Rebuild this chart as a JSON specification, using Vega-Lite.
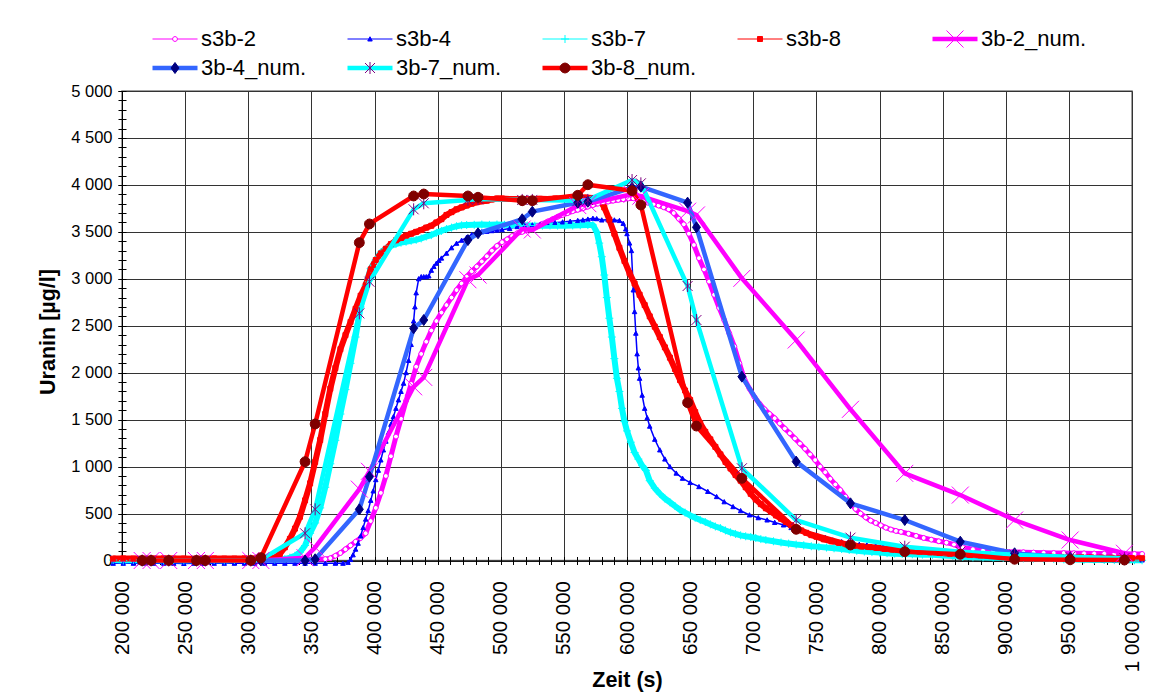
{
"$schema":"https://vega.github.io/schema/vega-lite/v6.json",
"width":1010,"height":469.5,"autosize":"none",
"padding":{"left":122,"top":91,"right":37,"bottom":135.5},
"data":{"values":[
{"s":"s3b-2","t":193000,"u":10},{"s":"s3b-2","t":201000,"u":10},{"s":"s3b-2","t":209000,"u":12},{"s":"s3b-2","t":217000,"u":10},{"s":"s3b-2","t":225000,"u":8},{"s":"s3b-2","t":233000,"u":10},{"s":"s3b-2","t":241000,"u":12},{"s":"s3b-2","t":249000,"u":10},{"s":"s3b-2","t":257000,"u":10},{"s":"s3b-2","t":265000,"u":8},{"s":"s3b-2","t":273000,"u":10},{"s":"s3b-2","t":281000,"u":12},{"s":"s3b-2","t":289000,"u":10},{"s":"s3b-2","t":297000,"u":10},{"s":"s3b-2","t":305000,"u":10},{"s":"s3b-2","t":313000,"u":12},{"s":"s3b-2","t":321000,"u":10},{"s":"s3b-2","t":329000,"u":10},{"s":"s3b-2","t":337000,"u":10},{"s":"s3b-2","t":345000,"u":12},{"s":"s3b-2","t":353000,"u":12},{"s":"s3b-2","t":361000,"u":15},{"s":"s3b-2","t":365000,"u":25},{"s":"s3b-2","t":369000,"u":50},{"s":"s3b-2","t":373000,"u":80},{"s":"s3b-2","t":377000,"u":120},{"s":"s3b-2","t":381000,"u":160},{"s":"s3b-2","t":385000,"u":200},{"s":"s3b-2","t":389000,"u":240},{"s":"s3b-2","t":393000,"u":290},{"s":"s3b-2","t":397000,"u":420},{"s":"s3b-2","t":401000,"u":560},{"s":"s3b-2","t":405000,"u":720},{"s":"s3b-2","t":409000,"u":900},{"s":"s3b-2","t":413000,"u":1110},{"s":"s3b-2","t":417000,"u":1320},{"s":"s3b-2","t":421000,"u":1510},{"s":"s3b-2","t":425000,"u":1700},{"s":"s3b-2","t":429000,"u":1880},{"s":"s3b-2","t":433000,"u":2064},{"s":"s3b-2","t":437000,"u":2200},{"s":"s3b-2","t":441000,"u":2330},{"s":"s3b-2","t":445000,"u":2450},{"s":"s3b-2","t":449000,"u":2550},{"s":"s3b-2","t":453000,"u":2640},{"s":"s3b-2","t":457000,"u":2720},{"s":"s3b-2","t":461000,"u":2800},{"s":"s3b-2","t":465000,"u":2880},{"s":"s3b-2","t":469000,"u":2950},{"s":"s3b-2","t":473000,"u":3022},{"s":"s3b-2","t":477000,"u":3080},{"s":"s3b-2","t":481000,"u":3130},{"s":"s3b-2","t":485000,"u":3185},{"s":"s3b-2","t":489000,"u":3240},{"s":"s3b-2","t":493000,"u":3300},{"s":"s3b-2","t":497000,"u":3350},{"s":"s3b-2","t":501000,"u":3390},{"s":"s3b-2","t":505000,"u":3420},{"s":"s3b-2","t":509000,"u":3455},{"s":"s3b-2","t":513000,"u":3485},{"s":"s3b-2","t":517000,"u":3500},{"s":"s3b-2","t":521000,"u":3520},{"s":"s3b-2","t":525000,"u":3538},{"s":"s3b-2","t":529000,"u":3560},{"s":"s3b-2","t":533000,"u":3585},{"s":"s3b-2","t":537000,"u":3610},{"s":"s3b-2","t":541000,"u":3635},{"s":"s3b-2","t":545000,"u":3660},{"s":"s3b-2","t":549000,"u":3680},{"s":"s3b-2","t":553000,"u":3700},{"s":"s3b-2","t":557000,"u":3720},{"s":"s3b-2","t":561000,"u":3735},{"s":"s3b-2","t":565000,"u":3750},{"s":"s3b-2","t":569000,"u":3768},{"s":"s3b-2","t":573000,"u":3785},{"s":"s3b-2","t":577000,"u":3800},{"s":"s3b-2","t":581000,"u":3812},{"s":"s3b-2","t":585000,"u":3822},{"s":"s3b-2","t":589000,"u":3832},{"s":"s3b-2","t":593000,"u":3840},{"s":"s3b-2","t":597000,"u":3848},{"s":"s3b-2","t":601000,"u":3855},{"s":"s3b-2","t":605000,"u":3857},{"s":"s3b-2","t":609000,"u":3845},{"s":"s3b-2","t":613000,"u":3825},{"s":"s3b-2","t":617000,"u":3808},{"s":"s3b-2","t":621000,"u":3795},{"s":"s3b-2","t":625000,"u":3780},{"s":"s3b-2","t":629000,"u":3762},{"s":"s3b-2","t":633000,"u":3740},{"s":"s3b-2","t":637000,"u":3700},{"s":"s3b-2","t":641000,"u":3640},{"s":"s3b-2","t":645000,"u":3580},{"s":"s3b-2","t":649000,"u":3480},{"s":"s3b-2","t":653000,"u":3360},{"s":"s3b-2","t":657000,"u":3220},{"s":"s3b-2","t":661000,"u":3100},{"s":"s3b-2","t":665000,"u":2970},{"s":"s3b-2","t":669000,"u":2830},{"s":"s3b-2","t":673000,"u":2690},{"s":"s3b-2","t":677000,"u":2560},{"s":"s3b-2","t":681000,"u":2420},{"s":"s3b-2","t":685000,"u":2280},{"s":"s3b-2","t":689000,"u":2100},{"s":"s3b-2","t":693000,"u":1930},{"s":"s3b-2","t":697000,"u":1830},{"s":"s3b-2","t":701000,"u":1740},{"s":"s3b-2","t":705000,"u":1670},{"s":"s3b-2","t":709000,"u":1610},{"s":"s3b-2","t":713000,"u":1560},{"s":"s3b-2","t":717000,"u":1515},{"s":"s3b-2","t":721000,"u":1460},{"s":"s3b-2","t":725000,"u":1405},{"s":"s3b-2","t":729000,"u":1355},{"s":"s3b-2","t":733000,"u":1300},{"s":"s3b-2","t":737000,"u":1245},{"s":"s3b-2","t":741000,"u":1190},{"s":"s3b-2","t":745000,"u":1130},{"s":"s3b-2","t":749000,"u":1070},{"s":"s3b-2","t":753000,"u":1000},{"s":"s3b-2","t":757000,"u":940},{"s":"s3b-2","t":761000,"u":870},{"s":"s3b-2","t":765000,"u":810},{"s":"s3b-2","t":769000,"u":750},{"s":"s3b-2","t":773000,"u":680},{"s":"s3b-2","t":777000,"u":610},{"s":"s3b-2","t":781000,"u":550},{"s":"s3b-2","t":785000,"u":500},{"s":"s3b-2","t":789000,"u":460},{"s":"s3b-2","t":793000,"u":425},{"s":"s3b-2","t":797000,"u":400},{"s":"s3b-2","t":801000,"u":375},{"s":"s3b-2","t":805000,"u":350},{"s":"s3b-2","t":809000,"u":330},{"s":"s3b-2","t":813000,"u":315},{"s":"s3b-2","t":817000,"u":305},{"s":"s3b-2","t":823000,"u":285},{"s":"s3b-2","t":829000,"u":262},{"s":"s3b-2","t":835000,"u":240},{"s":"s3b-2","t":841000,"u":222},{"s":"s3b-2","t":847000,"u":205},{"s":"s3b-2","t":853000,"u":190},{"s":"s3b-2","t":859000,"u":170},{"s":"s3b-2","t":866000,"u":140},{"s":"s3b-2","t":874000,"u":120},{"s":"s3b-2","t":882000,"u":108},{"s":"s3b-2","t":890000,"u":100},{"s":"s3b-2","t":898000,"u":95},{"s":"s3b-2","t":906000,"u":90},{"s":"s3b-2","t":914000,"u":88},{"s":"s3b-2","t":922000,"u":85},{"s":"s3b-2","t":930000,"u":82},{"s":"s3b-2","t":938000,"u":80},{"s":"s3b-2","t":946000,"u":80},{"s":"s3b-2","t":954000,"u":78},{"s":"s3b-2","t":962000,"u":76},{"s":"s3b-2","t":970000,"u":75},{"s":"s3b-2","t":978000,"u":74},{"s":"s3b-2","t":986000,"u":72},{"s":"s3b-2","t":994000,"u":72},{"s":"s3b-2","t":1002000,"u":70},{"s":"s3b-2","t":1008000,"u":70},
{"s":"s3b-4","t":193000,"u":-30},{"s":"s3b-4","t":201000,"u":-30},{"s":"s3b-4","t":209000,"u":-30},{"s":"s3b-4","t":217000,"u":-28},{"s":"s3b-4","t":225000,"u":-30},{"s":"s3b-4","t":233000,"u":-30},{"s":"s3b-4","t":241000,"u":-30},{"s":"s3b-4","t":249000,"u":-32},{"s":"s3b-4","t":257000,"u":-30},{"s":"s3b-4","t":265000,"u":-30},{"s":"s3b-4","t":273000,"u":-30},{"s":"s3b-4","t":281000,"u":-30},{"s":"s3b-4","t":289000,"u":-30},{"s":"s3b-4","t":297000,"u":-30},{"s":"s3b-4","t":305000,"u":-30},{"s":"s3b-4","t":313000,"u":-30},{"s":"s3b-4","t":321000,"u":-30},{"s":"s3b-4","t":329000,"u":-30},{"s":"s3b-4","t":337000,"u":-30},{"s":"s3b-4","t":345000,"u":-30},{"s":"s3b-4","t":353000,"u":-30},{"s":"s3b-4","t":361000,"u":-30},{"s":"s3b-4","t":369000,"u":-30},{"s":"s3b-4","t":375000,"u":-30},{"s":"s3b-4","t":379000,"u":-20},{"s":"s3b-4","t":381000,"u":10},{"s":"s3b-4","t":383000,"u":60},{"s":"s3b-4","t":385000,"u":120},{"s":"s3b-4","t":387000,"u":183},{"s":"s3b-4","t":389000,"u":260},{"s":"s3b-4","t":391000,"u":350},{"s":"s3b-4","t":393000,"u":440},{"s":"s3b-4","t":395000,"u":530},{"s":"s3b-4","t":397000,"u":640},{"s":"s3b-4","t":399000,"u":740},{"s":"s3b-4","t":401000,"u":860},{"s":"s3b-4","t":403000,"u":960},{"s":"s3b-4","t":405000,"u":1070},{"s":"s3b-4","t":407000,"u":1177},{"s":"s3b-4","t":409000,"u":1270},{"s":"s3b-4","t":411000,"u":1360},{"s":"s3b-4","t":413000,"u":1450},{"s":"s3b-4","t":415000,"u":1531},{"s":"s3b-4","t":417000,"u":1620},{"s":"s3b-4","t":419000,"u":1710},{"s":"s3b-4","t":421000,"u":1800},{"s":"s3b-4","t":423000,"u":1887},{"s":"s3b-4","t":425000,"u":2000},{"s":"s3b-4","t":427000,"u":2130},{"s":"s3b-4","t":429000,"u":2300},{"s":"s3b-4","t":431000,"u":2550},{"s":"s3b-4","t":432000,"u":2700},{"s":"s3b-4","t":433000,"u":2850},{"s":"s3b-4","t":435000,"u":3000},{"s":"s3b-4","t":437000,"u":3022},{"s":"s3b-4","t":439000,"u":3022},{"s":"s3b-4","t":441000,"u":3022},{"s":"s3b-4","t":443000,"u":3030},{"s":"s3b-4","t":445000,"u":3090},{"s":"s3b-4","t":447000,"u":3130},{"s":"s3b-4","t":449000,"u":3165},{"s":"s3b-4","t":451000,"u":3195},{"s":"s3b-4","t":453000,"u":3220},{"s":"s3b-4","t":457000,"u":3272},{"s":"s3b-4","t":461000,"u":3330},{"s":"s3b-4","t":465000,"u":3378},{"s":"s3b-4","t":469000,"u":3410},{"s":"s3b-4","t":473000,"u":3442},{"s":"s3b-4","t":477000,"u":3470},{"s":"s3b-4","t":481000,"u":3490},{"s":"s3b-4","t":485000,"u":3500},{"s":"s3b-4","t":489000,"u":3505},{"s":"s3b-4","t":493000,"u":3512},{"s":"s3b-4","t":497000,"u":3518},{"s":"s3b-4","t":501000,"u":3522},{"s":"s3b-4","t":507000,"u":3535},{"s":"s3b-4","t":513000,"u":3555},{"s":"s3b-4","t":519000,"u":3565},{"s":"s3b-4","t":525000,"u":3573},{"s":"s3b-4","t":531000,"u":3580},{"s":"s3b-4","t":537000,"u":3590},{"s":"s3b-4","t":543000,"u":3598},{"s":"s3b-4","t":549000,"u":3605},{"s":"s3b-4","t":555000,"u":3612},{"s":"s3b-4","t":561000,"u":3620},{"s":"s3b-4","t":565000,"u":3626},{"s":"s3b-4","t":569000,"u":3635},{"s":"s3b-4","t":573000,"u":3644},{"s":"s3b-4","t":576000,"u":3640},{"s":"s3b-4","t":580000,"u":3626},{"s":"s3b-4","t":585000,"u":3628},{"s":"s3b-4","t":590000,"u":3626},{"s":"s3b-4","t":594000,"u":3620},{"s":"s3b-4","t":597000,"u":3590},{"s":"s3b-4","t":599000,"u":3530},{"s":"s3b-4","t":600000,"u":3480},{"s":"s3b-4","t":602000,"u":3380},{"s":"s3b-4","t":603500,"u":3300},{"s":"s3b-4","t":605000,"u":2881},{"s":"s3b-4","t":606000,"u":2650},{"s":"s3b-4","t":607000,"u":2420},{"s":"s3b-4","t":608000,"u":2200},{"s":"s3b-4","t":609000,"u":2050},{"s":"s3b-4","t":610000,"u":1940},{"s":"s3b-4","t":612000,"u":1760},{"s":"s3b-4","t":614000,"u":1620},{"s":"s3b-4","t":616000,"u":1520},{"s":"s3b-4","t":618000,"u":1430},{"s":"s3b-4","t":622000,"u":1290},{"s":"s3b-4","t":626000,"u":1177},{"s":"s3b-4","t":630000,"u":1080},{"s":"s3b-4","t":634000,"u":999},{"s":"s3b-4","t":639000,"u":930},{"s":"s3b-4","t":644000,"u":875},{"s":"s3b-4","t":650000,"u":830},{"s":"s3b-4","t":657000,"u":786},{"s":"s3b-4","t":664000,"u":735},{"s":"s3b-4","t":671000,"u":680},{"s":"s3b-4","t":677000,"u":625},{"s":"s3b-4","t":684000,"u":573},{"s":"s3b-4","t":690000,"u":530},{"s":"s3b-4","t":697000,"u":485},{"s":"s3b-4","t":704000,"u":455},{"s":"s3b-4","t":711000,"u":431},{"s":"s3b-4","t":717000,"u":405},{"s":"s3b-4","t":724000,"u":378},{"s":"s3b-4","t":730000,"u":350},{"s":"s3b-4","t":737000,"u":325},{"s":"s3b-4","t":743000,"u":300},{"s":"s3b-4","t":750000,"u":272},{"s":"s3b-4","t":757000,"u":245},{"s":"s3b-4","t":763000,"u":218},{"s":"s3b-4","t":770000,"u":200},{"s":"s3b-4","t":777000,"u":183},{"s":"s3b-4","t":784000,"u":172},{"s":"s3b-4","t":790000,"u":165},{"s":"s3b-4","t":797000,"u":155},{"s":"s3b-4","t":803000,"u":147},{"s":"s3b-4","t":810000,"u":138},{"s":"s3b-4","t":816000,"u":130},{"s":"s3b-4","t":824000,"u":118},{"s":"s3b-4","t":833000,"u":106},{"s":"s3b-4","t":842000,"u":94},{"s":"s3b-4","t":851000,"u":82},{"s":"s3b-4","t":860000,"u":70},{"s":"s3b-4","t":869000,"u":60},{"s":"s3b-4","t":878000,"u":52},{"s":"s3b-4","t":887000,"u":45},{"s":"s3b-4","t":896000,"u":38},{"s":"s3b-4","t":905000,"u":32},{"s":"s3b-4","t":914000,"u":27},{"s":"s3b-4","t":923000,"u":23},{"s":"s3b-4","t":932000,"u":19},{"s":"s3b-4","t":941000,"u":16},{"s":"s3b-4","t":950000,"u":14},{"s":"s3b-4","t":959000,"u":12},{"s":"s3b-4","t":968000,"u":10},{"s":"s3b-4","t":977000,"u":9},{"s":"s3b-4","t":986000,"u":8},{"s":"s3b-4","t":995000,"u":7},{"s":"s3b-4","t":1008000,"u":5},
{"s":"s3b-7","t":193000,"u":5},{"s":"s3b-7","t":201000,"u":0},{"s":"s3b-7","t":209000,"u":5},{"s":"s3b-7","t":217000,"u":0},{"s":"s3b-7","t":225000,"u":5},{"s":"s3b-7","t":233000,"u":0},{"s":"s3b-7","t":241000,"u":5},{"s":"s3b-7","t":249000,"u":0},{"s":"s3b-7","t":257000,"u":5},{"s":"s3b-7","t":265000,"u":0},{"s":"s3b-7","t":273000,"u":5},{"s":"s3b-7","t":281000,"u":0},{"s":"s3b-7","t":289000,"u":5},{"s":"s3b-7","t":297000,"u":5},{"s":"s3b-7","t":305000,"u":5},{"s":"s3b-7","t":313000,"u":10},{"s":"s3b-7","t":321000,"u":10},{"s":"s3b-7","t":329000,"u":15},{"s":"s3b-7","t":333000,"u":30},{"s":"s3b-7","t":337000,"u":50},{"s":"s3b-7","t":341000,"u":90},{"s":"s3b-7","t":345000,"u":160},{"s":"s3b-7","t":349000,"u":290},{"s":"s3b-7","t":353000,"u":400},{"s":"s3b-7","t":357000,"u":560},{"s":"s3b-7","t":361000,"u":780},{"s":"s3b-7","t":365000,"u":1030},{"s":"s3b-7","t":369000,"u":1280},{"s":"s3b-7","t":373000,"u":1560},{"s":"s3b-7","t":377000,"u":1820},{"s":"s3b-7","t":381000,"u":2100},{"s":"s3b-7","t":385000,"u":2380},{"s":"s3b-7","t":389000,"u":2700},{"s":"s3b-7","t":393000,"u":2930},{"s":"s3b-7","t":397000,"u":3110},{"s":"s3b-7","t":401000,"u":3200},{"s":"s3b-7","t":405000,"u":3280},{"s":"s3b-7","t":409000,"u":3320},{"s":"s3b-7","t":413000,"u":3350},{"s":"s3b-7","t":417000,"u":3370},{"s":"s3b-7","t":421000,"u":3385},{"s":"s3b-7","t":425000,"u":3395},{"s":"s3b-7","t":429000,"u":3405},{"s":"s3b-7","t":433000,"u":3415},{"s":"s3b-7","t":437000,"u":3430},{"s":"s3b-7","t":441000,"u":3450},{"s":"s3b-7","t":445000,"u":3465},{"s":"s3b-7","t":449000,"u":3490},{"s":"s3b-7","t":453000,"u":3510},{"s":"s3b-7","t":457000,"u":3530},{"s":"s3b-7","t":461000,"u":3545},{"s":"s3b-7","t":465000,"u":3560},{"s":"s3b-7","t":469000,"u":3570},{"s":"s3b-7","t":473000,"u":3573},{"s":"s3b-7","t":479000,"u":3575},{"s":"s3b-7","t":485000,"u":3578},{"s":"s3b-7","t":491000,"u":3575},{"s":"s3b-7","t":497000,"u":3578},{"s":"s3b-7","t":503000,"u":3575},{"s":"s3b-7","t":509000,"u":3572},{"s":"s3b-7","t":515000,"u":3570},{"s":"s3b-7","t":521000,"u":3568},{"s":"s3b-7","t":527000,"u":3566},{"s":"s3b-7","t":533000,"u":3566},{"s":"s3b-7","t":539000,"u":3568},{"s":"s3b-7","t":545000,"u":3566},{"s":"s3b-7","t":551000,"u":3566},{"s":"s3b-7","t":557000,"u":3568},{"s":"s3b-7","t":563000,"u":3570},{"s":"s3b-7","t":569000,"u":3572},{"s":"s3b-7","t":573000,"u":3573},{"s":"s3b-7","t":576000,"u":3500},{"s":"s3b-7","t":578000,"u":3380},{"s":"s3b-7","t":580000,"u":3235},{"s":"s3b-7","t":582000,"u":3040},{"s":"s3b-7","t":584000,"u":2800},{"s":"s3b-7","t":586000,"u":2580},{"s":"s3b-7","t":588000,"u":2380},{"s":"s3b-7","t":590000,"u":2150},{"s":"s3b-7","t":592000,"u":1940},{"s":"s3b-7","t":594000,"u":1800},{"s":"s3b-7","t":596000,"u":1620},{"s":"s3b-7","t":598000,"u":1480},{"s":"s3b-7","t":600000,"u":1380},{"s":"s3b-7","t":603000,"u":1260},{"s":"s3b-7","t":606000,"u":1150},{"s":"s3b-7","t":609000,"u":1080},{"s":"s3b-7","t":612000,"u":1010},{"s":"s3b-7","t":615000,"u":960},{"s":"s3b-7","t":618000,"u":850},{"s":"s3b-7","t":622000,"u":770},{"s":"s3b-7","t":626000,"u":710},{"s":"s3b-7","t":630000,"u":660},{"s":"s3b-7","t":634000,"u":620},{"s":"s3b-7","t":638000,"u":580},{"s":"s3b-7","t":642000,"u":540},{"s":"s3b-7","t":646000,"u":510},{"s":"s3b-7","t":650000,"u":480},{"s":"s3b-7","t":654000,"u":455},{"s":"s3b-7","t":658000,"u":431},{"s":"s3b-7","t":662000,"u":410},{"s":"s3b-7","t":666000,"u":385},{"s":"s3b-7","t":670000,"u":362},{"s":"s3b-7","t":674000,"u":345},{"s":"s3b-7","t":678000,"u":320},{"s":"s3b-7","t":682000,"u":300},{"s":"s3b-7","t":686000,"u":283},{"s":"s3b-7","t":690000,"u":268},{"s":"s3b-7","t":694000,"u":258},{"s":"s3b-7","t":698000,"u":250},{"s":"s3b-7","t":702000,"u":240},{"s":"s3b-7","t":706000,"u":228},{"s":"s3b-7","t":710000,"u":218},{"s":"s3b-7","t":716000,"u":205},{"s":"s3b-7","t":722000,"u":192},{"s":"s3b-7","t":728000,"u":180},{"s":"s3b-7","t":734000,"u":170},{"s":"s3b-7","t":740000,"u":162},{"s":"s3b-7","t":746000,"u":152},{"s":"s3b-7","t":752000,"u":145},{"s":"s3b-7","t":758000,"u":138},{"s":"s3b-7","t":764000,"u":130},{"s":"s3b-7","t":770000,"u":122},{"s":"s3b-7","t":776000,"u":112},{"s":"s3b-7","t":782000,"u":104},{"s":"s3b-7","t":788000,"u":96},{"s":"s3b-7","t":794000,"u":90},{"s":"s3b-7","t":800000,"u":84},{"s":"s3b-7","t":806000,"u":78},{"s":"s3b-7","t":812000,"u":73},{"s":"s3b-7","t":818000,"u":70},{"s":"s3b-7","t":826000,"u":66},{"s":"s3b-7","t":834000,"u":62},{"s":"s3b-7","t":842000,"u":60},{"s":"s3b-7","t":850000,"u":54},{"s":"s3b-7","t":858000,"u":48},{"s":"s3b-7","t":866000,"u":38},{"s":"s3b-7","t":874000,"u":34},{"s":"s3b-7","t":882000,"u":32},{"s":"s3b-7","t":890000,"u":30},{"s":"s3b-7","t":898000,"u":28},{"s":"s3b-7","t":906000,"u":25},{"s":"s3b-7","t":914000,"u":22},{"s":"s3b-7","t":922000,"u":20},{"s":"s3b-7","t":930000,"u":18},{"s":"s3b-7","t":938000,"u":15},{"s":"s3b-7","t":946000,"u":12},{"s":"s3b-7","t":954000,"u":10},{"s":"s3b-7","t":962000,"u":8},{"s":"s3b-7","t":970000,"u":6},{"s":"s3b-7","t":978000,"u":5},{"s":"s3b-7","t":986000,"u":4},{"s":"s3b-7","t":994000,"u":3},{"s":"s3b-7","t":1002000,"u":3},{"s":"s3b-7","t":1008000,"u":2},
{"s":"s3b-8","t":193000,"u":20},{"s":"s3b-8","t":201000,"u":22},{"s":"s3b-8","t":209000,"u":20},{"s":"s3b-8","t":217000,"u":18},{"s":"s3b-8","t":225000,"u":20},{"s":"s3b-8","t":233000,"u":22},{"s":"s3b-8","t":241000,"u":20},{"s":"s3b-8","t":249000,"u":20},{"s":"s3b-8","t":257000,"u":18},{"s":"s3b-8","t":265000,"u":20},{"s":"s3b-8","t":273000,"u":22},{"s":"s3b-8","t":281000,"u":20},{"s":"s3b-8","t":289000,"u":20},{"s":"s3b-8","t":297000,"u":22},{"s":"s3b-8","t":305000,"u":20},{"s":"s3b-8","t":313000,"u":22},{"s":"s3b-8","t":321000,"u":30},{"s":"s3b-8","t":325000,"u":70},{"s":"s3b-8","t":329000,"u":140},{"s":"s3b-8","t":333000,"u":230},{"s":"s3b-8","t":337000,"u":340},{"s":"s3b-8","t":341000,"u":466},{"s":"s3b-8","t":345000,"u":640},{"s":"s3b-8","t":349000,"u":822},{"s":"s3b-8","t":353000,"u":1050},{"s":"s3b-8","t":357000,"u":1283},{"s":"s3b-8","t":361000,"u":1560},{"s":"s3b-8","t":365000,"u":1830},{"s":"s3b-8","t":369000,"u":2050},{"s":"s3b-8","t":373000,"u":2250},{"s":"s3b-8","t":377000,"u":2400},{"s":"s3b-8","t":381000,"u":2540},{"s":"s3b-8","t":385000,"u":2680},{"s":"s3b-8","t":389000,"u":2820},{"s":"s3b-8","t":393000,"u":2930},{"s":"s3b-8","t":397000,"u":3100},{"s":"s3b-8","t":401000,"u":3200},{"s":"s3b-8","t":405000,"u":3270},{"s":"s3b-8","t":409000,"u":3320},{"s":"s3b-8","t":413000,"u":3370},{"s":"s3b-8","t":417000,"u":3410},{"s":"s3b-8","t":421000,"u":3435},{"s":"s3b-8","t":425000,"u":3460},{"s":"s3b-8","t":429000,"u":3480},{"s":"s3b-8","t":433000,"u":3500},{"s":"s3b-8","t":437000,"u":3520},{"s":"s3b-8","t":441000,"u":3545},{"s":"s3b-8","t":445000,"u":3565},{"s":"s3b-8","t":449000,"u":3600},{"s":"s3b-8","t":453000,"u":3635},{"s":"s3b-8","t":457000,"u":3680},{"s":"s3b-8","t":461000,"u":3710},{"s":"s3b-8","t":465000,"u":3740},{"s":"s3b-8","t":469000,"u":3760},{"s":"s3b-8","t":473000,"u":3780},{"s":"s3b-8","t":477000,"u":3800},{"s":"s3b-8","t":481000,"u":3815},{"s":"s3b-8","t":485000,"u":3825},{"s":"s3b-8","t":489000,"u":3832},{"s":"s3b-8","t":493000,"u":3845},{"s":"s3b-8","t":497000,"u":3855},{"s":"s3b-8","t":501000,"u":3855},{"s":"s3b-8","t":507000,"u":3850},{"s":"s3b-8","t":513000,"u":3850},{"s":"s3b-8","t":519000,"u":3848},{"s":"s3b-8","t":525000,"u":3850},{"s":"s3b-8","t":531000,"u":3852},{"s":"s3b-8","t":537000,"u":3850},{"s":"s3b-8","t":543000,"u":3855},{"s":"s3b-8","t":549000,"u":3855},{"s":"s3b-8","t":555000,"u":3860},{"s":"s3b-8","t":561000,"u":3860},{"s":"s3b-8","t":567000,"u":3865},{"s":"s3b-8","t":573000,"u":3860},{"s":"s3b-8","t":578000,"u":3840},{"s":"s3b-8","t":582000,"u":3760},{"s":"s3b-8","t":586000,"u":3630},{"s":"s3b-8","t":590000,"u":3480},{"s":"s3b-8","t":594000,"u":3330},{"s":"s3b-8","t":598000,"u":3190},{"s":"s3b-8","t":602000,"u":3060},{"s":"s3b-8","t":606000,"u":2950},{"s":"s3b-8","t":610000,"u":2830},{"s":"s3b-8","t":614000,"u":2720},{"s":"s3b-8","t":618000,"u":2600},{"s":"s3b-8","t":622000,"u":2490},{"s":"s3b-8","t":626000,"u":2380},{"s":"s3b-8","t":630000,"u":2270},{"s":"s3b-8","t":634000,"u":2160},{"s":"s3b-8","t":638000,"u":2040},{"s":"s3b-8","t":642000,"u":1922},{"s":"s3b-8","t":646000,"u":1810},{"s":"s3b-8","t":650000,"u":1709},{"s":"s3b-8","t":654000,"u":1580},{"s":"s3b-8","t":658000,"u":1461},{"s":"s3b-8","t":662000,"u":1370},{"s":"s3b-8","t":666000,"u":1290},{"s":"s3b-8","t":670000,"u":1210},{"s":"s3b-8","t":674000,"u":1130},{"s":"s3b-8","t":678000,"u":1050},{"s":"s3b-8","t":682000,"u":980},{"s":"s3b-8","t":686000,"u":910},{"s":"s3b-8","t":690000,"u":850},{"s":"s3b-8","t":694000,"u":780},{"s":"s3b-8","t":698000,"u":710},{"s":"s3b-8","t":702000,"u":650},{"s":"s3b-8","t":706000,"u":600},{"s":"s3b-8","t":710000,"u":556},{"s":"s3b-8","t":714000,"u":520},{"s":"s3b-8","t":718000,"u":480},{"s":"s3b-8","t":722000,"u":445},{"s":"s3b-8","t":726000,"u":410},{"s":"s3b-8","t":730000,"u":375},{"s":"s3b-8","t":734000,"u":345},{"s":"s3b-8","t":738000,"u":320},{"s":"s3b-8","t":742000,"u":295},{"s":"s3b-8","t":746000,"u":270},{"s":"s3b-8","t":750000,"u":253},{"s":"s3b-8","t":756000,"u":225},{"s":"s3b-8","t":762000,"u":205},{"s":"s3b-8","t":768000,"u":188},{"s":"s3b-8","t":774000,"u":172},{"s":"s3b-8","t":780000,"u":158},{"s":"s3b-8","t":786000,"u":150},{"s":"s3b-8","t":792000,"u":143},{"s":"s3b-8","t":798000,"u":135},{"s":"s3b-8","t":804000,"u":125},{"s":"s3b-8","t":810000,"u":118},{"s":"s3b-8","t":816000,"u":112},{"s":"s3b-8","t":824000,"u":102},{"s":"s3b-8","t":832000,"u":95},{"s":"s3b-8","t":840000,"u":88},{"s":"s3b-8","t":848000,"u":80},{"s":"s3b-8","t":856000,"u":72},{"s":"s3b-8","t":864000,"u":65},{"s":"s3b-8","t":872000,"u":58},{"s":"s3b-8","t":880000,"u":55},{"s":"s3b-8","t":888000,"u":52},{"s":"s3b-8","t":896000,"u":50},{"s":"s3b-8","t":904000,"u":46},{"s":"s3b-8","t":912000,"u":44},{"s":"s3b-8","t":920000,"u":42},{"s":"s3b-8","t":928000,"u":40},{"s":"s3b-8","t":936000,"u":40},{"s":"s3b-8","t":944000,"u":38},{"s":"s3b-8","t":952000,"u":36},{"s":"s3b-8","t":960000,"u":34},{"s":"s3b-8","t":968000,"u":32},{"s":"s3b-8","t":976000,"u":30},{"s":"s3b-8","t":984000,"u":28},{"s":"s3b-8","t":992000,"u":26},{"s":"s3b-8","t":1000000,"u":25},{"s":"s3b-8","t":1008000,"u":24},
{"s":"3b-2_num.","t":216000,"u":0},{"s":"3b-2_num.","t":223000,"u":0},{"s":"3b-2_num.","t":237000,"u":0},{"s":"3b-2_num.","t":259000,"u":0},{"s":"3b-2_num.","t":266000,"u":0},{"s":"3b-2_num.","t":302000,"u":0},{"s":"3b-2_num.","t":310000,"u":0},{"s":"3b-2_num.","t":345000,"u":30},{"s":"3b-2_num.","t":353000,"u":140},{"s":"3b-2_num.","t":388000,"u":760},{"s":"3b-2_num.","t":396000,"u":950},{"s":"3b-2_num.","t":431000,"u":1850},{"s":"3b-2_num.","t":439000,"u":1950},{"s":"3b-2_num.","t":474000,"u":2990},{"s":"3b-2_num.","t":482000,"u":3040},{"s":"3b-2_num.","t":517000,"u":3530},{"s":"3b-2_num.","t":525000,"u":3520},{"s":"3b-2_num.","t":561000,"u":3780},{"s":"3b-2_num.","t":569000,"u":3800},{"s":"3b-2_num.","t":604000,"u":3900},{"s":"3b-2_num.","t":611000,"u":3880},{"s":"3b-2_num.","t":648000,"u":3720},{"s":"3b-2_num.","t":655000,"u":3680},{"s":"3b-2_num.","t":691000,"u":3005},{"s":"3b-2_num.","t":734000,"u":2348},{"s":"3b-2_num.","t":777000,"u":1610},{"s":"3b-2_num.","t":820000,"u":928},{"s":"3b-2_num.","t":864000,"u":697},{"s":"3b-2_num.","t":907000,"u":431},{"s":"3b-2_num.","t":951000,"u":218},{"s":"3b-2_num.","t":994000,"u":77},
{"s":"3b-4_num.","t":216000,"u":0},{"s":"3b-4_num.","t":223000,"u":0},{"s":"3b-4_num.","t":237000,"u":0},{"s":"3b-4_num.","t":259000,"u":0},{"s":"3b-4_num.","t":266000,"u":0},{"s":"3b-4_num.","t":302000,"u":0},{"s":"3b-4_num.","t":310000,"u":0},{"s":"3b-4_num.","t":345000,"u":0},{"s":"3b-4_num.","t":353000,"u":13},{"s":"3b-4_num.","t":388000,"u":545},{"s":"3b-4_num.","t":396000,"u":893},{"s":"3b-4_num.","t":431000,"u":2473},{"s":"3b-4_num.","t":439000,"u":2561},{"s":"3b-4_num.","t":474000,"u":3413},{"s":"3b-4_num.","t":482000,"u":3485},{"s":"3b-4_num.","t":517000,"u":3634},{"s":"3b-4_num.","t":525000,"u":3715},{"s":"3b-4_num.","t":561000,"u":3810},{"s":"3b-4_num.","t":569000,"u":3821},{"s":"3b-4_num.","t":604000,"u":3970},{"s":"3b-4_num.","t":611000,"u":3981},{"s":"3b-4_num.","t":648000,"u":3811},{"s":"3b-4_num.","t":655000,"u":3548},{"s":"3b-4_num.","t":691000,"u":1958},{"s":"3b-4_num.","t":734000,"u":1053},{"s":"3b-4_num.","t":777000,"u":609},{"s":"3b-4_num.","t":820000,"u":431},{"s":"3b-4_num.","t":864000,"u":200},{"s":"3b-4_num.","t":907000,"u":77},{"s":"3b-4_num.","t":951000,"u":30},{"s":"3b-4_num.","t":994000,"u":10},
{"s":"3b-7_num.","t":216000,"u":0},{"s":"3b-7_num.","t":223000,"u":0},{"s":"3b-7_num.","t":237000,"u":0},{"s":"3b-7_num.","t":259000,"u":0},{"s":"3b-7_num.","t":266000,"u":0},{"s":"3b-7_num.","t":302000,"u":0},{"s":"3b-7_num.","t":310000,"u":10},{"s":"3b-7_num.","t":345000,"u":290},{"s":"3b-7_num.","t":353000,"u":545},{"s":"3b-7_num.","t":388000,"u":2632},{"s":"3b-7_num.","t":396000,"u":2969},{"s":"3b-7_num.","t":431000,"u":3740},{"s":"3b-7_num.","t":439000,"u":3804},{"s":"3b-7_num.","t":474000,"u":3840},{"s":"3b-7_num.","t":482000,"u":3850},{"s":"3b-7_num.","t":517000,"u":3840},{"s":"3b-7_num.","t":525000,"u":3840},{"s":"3b-7_num.","t":561000,"u":3830},{"s":"3b-7_num.","t":569000,"u":3840},{"s":"3b-7_num.","t":604000,"u":4052},{"s":"3b-7_num.","t":611000,"u":4017},{"s":"3b-7_num.","t":648000,"u":2923},{"s":"3b-7_num.","t":655000,"u":2561},{"s":"3b-7_num.","t":691000,"u":982},{"s":"3b-7_num.","t":734000,"u":431},{"s":"3b-7_num.","t":777000,"u":243},{"s":"3b-7_num.","t":820000,"u":147},{"s":"3b-7_num.","t":864000,"u":94},{"s":"3b-7_num.","t":907000,"u":60},{"s":"3b-7_num.","t":951000,"u":40},{"s":"3b-7_num.","t":994000,"u":25},
{"s":"3b-8_num.","t":216000,"u":0},{"s":"3b-8_num.","t":223000,"u":0},{"s":"3b-8_num.","t":237000,"u":0},{"s":"3b-8_num.","t":259000,"u":0},{"s":"3b-8_num.","t":266000,"u":0},{"s":"3b-8_num.","t":302000,"u":0},{"s":"3b-8_num.","t":310000,"u":30},{"s":"3b-8_num.","t":345000,"u":1052},{"s":"3b-8_num.","t":353000,"u":1454},{"s":"3b-8_num.","t":388000,"u":3385},{"s":"3b-8_num.","t":396000,"u":3584},{"s":"3b-8_num.","t":431000,"u":3882},{"s":"3b-8_num.","t":439000,"u":3903},{"s":"3b-8_num.","t":474000,"u":3882},{"s":"3b-8_num.","t":482000,"u":3868},{"s":"3b-8_num.","t":517000,"u":3832},{"s":"3b-8_num.","t":525000,"u":3832},{"s":"3b-8_num.","t":561000,"u":3889},{"s":"3b-8_num.","t":569000,"u":4002},{"s":"3b-8_num.","t":604000,"u":3938},{"s":"3b-8_num.","t":611000,"u":3786},{"s":"3b-8_num.","t":648000,"u":1681},{"s":"3b-8_num.","t":655000,"u":1432},{"s":"3b-8_num.","t":691000,"u":875},{"s":"3b-8_num.","t":734000,"u":332},{"s":"3b-8_num.","t":777000,"u":165},{"s":"3b-8_num.","t":820000,"u":94},{"s":"3b-8_num.","t":864000,"u":66},{"s":"3b-8_num.","t":907000,"u":13},{"s":"3b-8_num.","t":951000,"u":8},{"s":"3b-8_num.","t":994000,"u":5}
]},
"encoding":{
"x":{"field":"t","type":"quantitative","scale":{"domain":[200000,1000000],"nice":false,"zero":false},"axis":null},
"y":{"field":"u","type":"quantitative","scale":{"domain":[0,5000],"nice":false,"zero":false},"axis":null}
},
"layer":[
{"transform":[{"filter":{"field":"s","oneOf":["s3b-2","s3b-4","s3b-7","s3b-8"]}}],
"mark":{"type":"line","strokeJoin":"round"},
"encoding":{
"x":{"field":"t","type":"quantitative","scale":{"domain":[200000,1000000],"nice":false,"zero":false},
"axis":{"orient":"bottom","values":[200000,210000,220000,230000,240000,250000,260000,270000,280000,290000,300000,310000,320000,330000,340000,350000,360000,370000,380000,390000,400000,410000,420000,430000,440000,450000,460000,470000,480000,490000,500000,510000,520000,530000,540000,550000,560000,570000,580000,590000,600000,610000,620000,630000,640000,650000,660000,670000,680000,690000,700000,710000,720000,730000,740000,750000,760000,770000,780000,790000,800000,810000,820000,830000,840000,850000,860000,870000,880000,890000,900000,910000,920000,930000,940000,950000,960000,970000,980000,990000,1000000],"labels":false,"grid":false,"domain":false,"ticks":true,"tickSize":8,"offset":-4,"tickColor":"#000","tickWidth":1,"title":null}},
"y":{"field":"u","type":"quantitative","scale":{"domain":[0,5000],"nice":false,"zero":false},
"axis":{"orient":"left","values":[0,100,200,300,400,500,600,700,800,900,1000,1100,1200,1300,1400,1500,1600,1700,1800,1900,2000,2100,2200,2300,2400,2500,2600,2700,2800,2900,3000,3100,3200,3300,3400,3500,3600,3700,3800,3900,4000,4100,4200,4300,4400,4500,4600,4700,4800,4900,5000],"labels":false,"grid":false,"domain":false,"ticks":true,"tickSize":8,"offset":-4,"tickColor":"#000","tickWidth":1,"title":null}},
"color":{"field":"s","type":"nominal",
"scale":{"domain":["s3b-2","s3b-4","s3b-7","s3b-8","3b-2_num.","3b-4_num.","3b-7_num.","3b-8_num."],"range":["#ff00ff","#0000ff","#00ffff","#ff0000","transparent","transparent","transparent","transparent"]},
"legend":{"orient":"none","legendX":30,"legendY":-62,"direction":"horizontal","columns":5,"gridAlign":"all","columnPadding":40,"rowPadding":7,"symbolType":"stroke","symbolSize":2025,"symbolStrokeWidth":1,"labelFontSize":22,"labelFont":"Liberation Sans","labelColor":"#000","labelOffset":3,"clipHeight":20,"title":null,"padding":0,"labelLimit":0}},
"strokeWidth":{"condition":[{"test":"datum.s === 's3b-4'","value":1.5},{"test":"datum.s === 's3b-2'","value":5}],"value":6}
}},
{"transform":[{"filter":{"field":"s","oneOf":["s3b-2","s3b-4","s3b-7","s3b-8"]}}],
"mark":{"type":"point","opacity":1,"strokeWidth":1,"size":100},
"encoding":{
"fill":{"field":"s","type":"nominal","scale":{"domain":["s3b-2","s3b-4","s3b-7","s3b-8","3b-2_num.","3b-4_num.","3b-7_num.","3b-8_num."],"range":["#ffffff","#0000ff","transparent","#ff0000","transparent","transparent","transparent","transparent"]},
"legend":{"orient":"none","legendX":30,"legendY":-62,"direction":"horizontal","columns":5,"gridAlign":"all","columnPadding":146,"rowPadding":7,"symbolOffset":12,"labelOffset":15,"labelExpr":"''","labelFontSize":22,"labelFont":"Liberation Sans","clipHeight":20,"title":null,"padding":0,"labelLimit":0,"symbolSize":100,"symbolStrokeWidth":1,"symbolOpacity":1}},
"stroke":{"field":"s","type":"nominal","scale":{"domain":["s3b-2","s3b-4","s3b-7","s3b-8","3b-2_num.","3b-4_num.","3b-7_num.","3b-8_num."],"range":["#ff00ff","#0000ff","#00ffff","#ff0000","transparent","transparent","transparent","transparent"]}},
"shape":{"field":"s","type":"nominal","scale":{"domain":["s3b-2","s3b-4","s3b-7","s3b-8","3b-2_num.","3b-4_num.","3b-7_num.","3b-8_num."],"range":["M0.5,0L0.354,0.354L0,0.5L-0.354,0.354L-0.5,0L-0.354,-0.354L0,-0.5L0.354,-0.354Z","M0,-0.45L0.45,0.4L-0.45,0.4Z","M-0.8,0H0.8M0,-0.8V0.8","M-0.5,-0.5H0.5V0.5H-0.5Z","M5.1,-0.1L5.1,0.1","M5.1,-0.1L5.1,0.1","M5.1,-0.1L5.1,0.1","M5.1,-0.1L5.1,0.1"]}}
}},
{"transform":[{"filter":{"field":"s","oneOf":["3b-2_num.","3b-4_num.","3b-7_num.","3b-8_num."]}}],
"mark":{"type":"line","strokeWidth":4.5,"strokeJoin":"round","strokeCap":"round"},
"encoding":{
"x":{"field":"t","type":"quantitative","scale":{"domain":[200000,1000000],"nice":false,"zero":false},
"axis":{"orient":"bottom","values":[200000,250000,300000,350000,400000,450000,500000,550000,600000,650000,700000,750000,800000,850000,900000,950000,1000000],"labelExpr":"replace(format(datum.value, ','), regexp(',', 'g'), ' ')","labelAngle":-90,"labelFontSize":20.5,"labelFont":"Liberation Sans","labelColor":"#000","labelPadding":16,"labelOverlap":false,"labelFlush":false,"tickSize":4,"tickColor":"#000","grid":true,"gridColor":"#333333","gridWidth":1,"domain":true,"domainColor":"#000","domainWidth":1,"title":"Zeit (s)","titleFont":"Liberation Sans","titleFontSize":21.5,"titleFontWeight":"bold","titleColor":"#000","titleX":505,"titleY":119.5,"titleBaseline":"middle","titleAlign":"center"}},
"y":{"field":"u","type":"quantitative","scale":{"domain":[0,5000],"nice":false,"zero":false},
"axis":{"orient":"left","values":[0,500,1000,1500,2000,2500,3000,3500,4000,4500,5000],"labelExpr":"replace(format(datum.value, ','), regexp(',', 'g'), ' ')","labelFontSize":16.5,"labelFont":"Liberation Sans","labelColor":"#000","labelPadding":6,"labelOverlap":false,"labelFlush":false,"tickSize":4,"tickColor":"#000","grid":true,"gridColor":"#333333","gridWidth":1,"domain":true,"domainColor":"#000","domainWidth":1,"title":"Uranin [µg/l]","titleFont":"Liberation Sans","titleFontSize":21.5,"titleFontWeight":"bold","titleColor":"#000","titleX":-74,"titleY":240.5,"titleAngle":-90,"titleBaseline":"middle","titleAlign":"center"}},
"color":{"field":"s","type":"nominal","scale":{"domain":["s3b-2","s3b-4","s3b-7","s3b-8","3b-2_num.","3b-4_num.","3b-7_num.","3b-8_num."],"range":["transparent","transparent","transparent","transparent","#ff00ff","#3366ff","#00ffff","#ff0000"]},
"legend":{"orient":"none","legendX":30,"legendY":-62,"direction":"horizontal","columns":5,"gridAlign":"all","columnPadding":146,"rowPadding":7,"symbolType":"stroke","symbolSize":2025,"symbolStrokeWidth":4.5,"symbolOffset":-2,"labelExpr":"''","labelFontSize":22,"labelFont":"Liberation Sans","labelOffset":1,"clipHeight":20,"title":null,"padding":0,"labelLimit":0}}
}},
{"transform":[{"filter":{"field":"s","oneOf":["3b-2_num.","3b-4_num.","3b-7_num.","3b-8_num."]}}],
"mark":{"type":"point","opacity":1,"strokeWidth":1,"size":100},
"encoding":{
"fill":{"field":"s","type":"nominal","scale":{"domain":["s3b-2","s3b-4","s3b-7","s3b-8","3b-2_num.","3b-4_num.","3b-7_num.","3b-8_num."],"range":["transparent","transparent","transparent","transparent","transparent","#000080","transparent","#800000"]},
"legend":{"orient":"none","legendX":30,"legendY":-62,"direction":"horizontal","columns":5,"gridAlign":"all","columnPadding":146,"rowPadding":7,"symbolOffset":12,"labelOffset":15,"labelExpr":"''","labelFontSize":22,"labelFont":"Liberation Sans","clipHeight":20,"title":null,"padding":0,"labelLimit":0,"symbolSize":100,"symbolStrokeWidth":1,"symbolOpacity":1}},
"stroke":{"field":"s","type":"nominal","scale":{"domain":["s3b-2","s3b-4","s3b-7","s3b-8","3b-2_num.","3b-4_num.","3b-7_num.","3b-8_num."],"range":["transparent","transparent","transparent","transparent","#ff00ff","#000080","#800080","#800000"]}},
"shape":{"field":"s","type":"nominal","scale":{"domain":["s3b-2","s3b-4","s3b-7","s3b-8","3b-2_num.","3b-4_num.","3b-7_num.","3b-8_num."],"range":["M5.1,-0.1L5.1,0.1","M5.1,-0.1L5.1,0.1","M5.1,-0.1L5.1,0.1","M5.1,-0.1L5.1,0.1","M-1.7,-1.7L1.7,1.7M-1.7,1.7L1.7,-1.7","M0,-1.1L0.8,0L0,1.1L-0.8,0Z","M-1,-1L1,1M-1,1L1,-1M0,-1.2V1.2","M1,0L0.866,0.5L0.5,0.866L0,1L-0.5,0.866L-0.866,0.5L-1,0L-0.866,-0.5L-0.5,-0.866L0,-1L0.5,-0.866L0.866,-0.5Z"]}}
}}
],
"resolve":{"axis":{"x":"independent","y":"independent"},"scale":{"color":"independent","fill":"independent","stroke":"independent","shape":"independent"}},
"config":{
"font":"Liberation Sans",
"background":"#ffffff",
"view":{"stroke":"#808080","strokeWidth":1.5},
"axis":{"labelColor":"#000","titleColor":"#000","tickColor":"#000","domainColor":"#000"}
}
}
